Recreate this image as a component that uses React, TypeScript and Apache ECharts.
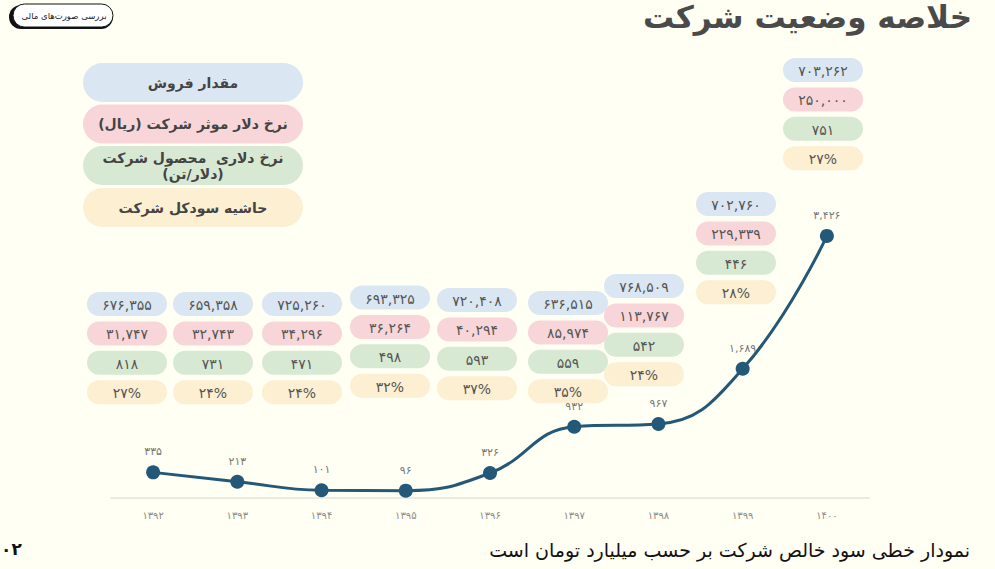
import React, { useEffect, useRef } from "react";
import * as echarts from "echarts";

// ---- data ----
const years = [1392, 1393, 1394, 1395, 1396, 1397, 1398, 1399, 1400];
const netProfit = [335, 213, 101, 96, 326, 932, 967, 1689, 3426];
const sales = [676355, 659358, 725260, 693325, 720408, 636515, 768509, 702760, 703262];
const dollarRate = [31747, 32743, 34296, 36264, 40294, 85974, 113767, 229339, 250000];
const productPrice = [818, 731, 471, 498, 593, 559, 542, 446, 751];
const grossMargin = [27, 24, 24, 32, 37, 35, 24, 28, 27];
const legendLabels = [
  "مقدار فروش",
  "\u200Fنرخ دلار موثر شرکت (ریال)\u200F",
  "نرخ دلاری  محصول شرکت\n\u200F(دلار/تن)\u200F",
  "حاشیه سودکل شرکت",
];
const titleText = "خلاصه وضعیت شرکت";
const badgeText = "بررسی صورت‌های مالی";
const captionText = "نمودار خطی سود خالص شرکت بر حسب میلیارد تومان است";
const pageText = "۰۲";

// ---- layout (positions only) ----
const pillCX = [127, 213, 302, 390, 477, 568, 644, 736, 823];
const pillTopCY = [304, 304, 304, 297.5, 300, 303, 286, 204, 70];
const pillStep = 29.4;
const pillColors = ["#dae7f3", "#f8d5d8", "#d8e9d3", "#fdefd1"];

const FA = "۰۱۲۳۴۵۶۷۸۹";
const toFa = (s: string) => s.replace(/\d/g, (d) => FA[+d]);
const faNum = (n: number) => toFa(n.toLocaleString("en-US"));
const faPlain = (n: number) => toFa(String(n));

const FONT = "DejaVu Sans";

export default function App() {
  const ref = useRef<HTMLDivElement>(null);
  useEffect(() => {
    if (!ref.current) return;
    const chart = echarts.init(ref.current, undefined, { renderer: "svg" });

    const graphics: any[] = [];
    // legend pills
    const legendCY = [82.5, 124, 165.5, 207.5];
    legendLabels.forEach((t, i) => {
      graphics.push({
        type: "rect",
        shape: { x: 83, y: legendCY[i] - 19.5, width: 220, height: 39, r: 19.5 },
        style: { fill: pillColors[i] },
      });
      graphics.push({
        type: "text",
        x: 193,
        y: legendCY[i],
        style: {
          text: t,
          fill: "#444",
          font: `bold 14px "${FONT}"`,
          textAlign: "center",
          textVerticalAlign: "middle",
          lineHeight: 16,
        },
      });
    });
    // value pills
    years.forEach((_, k) => {
      const vals = [
        faNum(sales[k]),
        faNum(dollarRate[k]),
        faPlain(productPrice[k]),
        faPlain(grossMargin[k]) + "%",
      ];
      vals.forEach((v, r) => {
        const cy = pillTopCY[k] + r * pillStep;
        graphics.push({
          type: "rect",
          shape: { x: pillCX[k] - 40, y: cy - 12, width: 80, height: 24, r: 12 },
          style: { fill: pillColors[r] },
        });
        graphics.push({
          type: "text",
          x: pillCX[k],
          y: cy + 1,
          style: {
            text: v,
            fill: "#555",
            font: `14px "${FONT}"`,
            textAlign: "center",
            textVerticalAlign: "middle",
          },
        });
      });
    });
    // title
    graphics.push({
      type: "text",
      x: 972,
      y: 17,
      style: {
        text: titleText,
        fill: "#4a4a4a",
        font: `bold 31px "${FONT}"`,
        textAlign: "right",
        textVerticalAlign: "middle",
      },
    });
    // badge
    graphics.push({
      type: "rect",
      shape: { x: 9, y: 5, width: 104, height: 24, r: 12 },
      style: { fill: "#111" },
    });
    graphics.push({
      type: "rect",
      shape: { x: 13, y: 4, width: 100, height: 23, r: 11.5 },
      style: { fill: "#fff", stroke: "#111", lineWidth: 1 },
    });
    graphics.push({
      type: "text",
      x: 64,
      y: 16,
      style: {
        text: badgeText,
        fill: "#222",
        font: `8.5px "${FONT}"`,
        textAlign: "center",
        textVerticalAlign: "middle",
      },
    });
    // caption
    graphics.push({
      type: "text",
      x: 970,
      y: 550,
      style: {
        text: captionText,
        fill: "#111",
        font: `19px "${FONT}"`,
        textAlign: "right",
        textVerticalAlign: "middle",
      },
    });
    graphics.push({
      type: "text",
      x: 1,
      y: 549,
      style: {
        text: pageText,
        fill: "#111",
        font: `bold 17px "${FONT}"`,
        textAlign: "left",
        textVerticalAlign: "middle",
      },
    });

    chart.setOption({
      animation: false,
      backgroundColor: "#fffff3",
      grid: { left: 111, right: 126, top: 192, bottom: 71 },
      xAxis: {
        type: "category",
        data: years.map(faPlain),
        boundaryGap: true,
        axisLine: { lineStyle: { color: "#ecebe3", width: 2 } },
        axisTick: { show: false },
        axisLabel: { color: "#8a8a8a", fontSize: 10, fontFamily: FONT, margin: 12 },
      },
      yAxis: {
        type: "value",
        min: 0,
        max: 4000,
        show: false,
        splitLine: { show: false },
      },
      series: [
        {
          type: "line",
          data: netProfit,
          smooth: 0.45,
          symbol: "circle",
          symbolSize: 14,
          lineStyle: { color: "#235878", width: 3 },
          itemStyle: { color: "#235878" },
          label: {
            show: true,
            position: "top",
            distance: 8,
            color: "#777",
            fontSize: 11,
            fontFamily: FONT,
            formatter: (p: any) => faNum(p.value),
          },
        },
      ],
      graphic: graphics,
    });
    return () => chart.dispose();
  }, []);
  return (
    <div
      ref={ref}
      style={{ position: "fixed", left: 0, top: 0, width: 995, height: 569 }}
    />
  );
}
